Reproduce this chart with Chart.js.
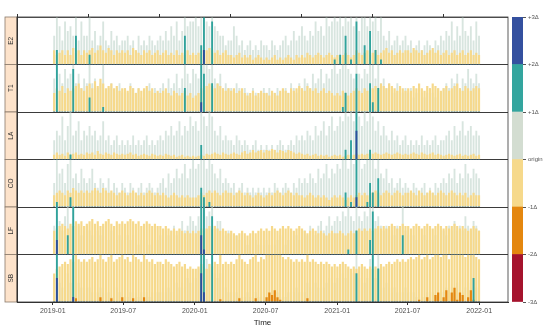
<!DOCTYPE html>
<html>
<head>
<meta charset="utf-8">
<script src="https://cdn.jsdelivr.net/npm/chart.js@4/dist/chart.umd.min.js"></script>
<style>
  body { margin: 0; background: #fff; }
  #wrap { position: relative; width: 550px; height: 333px; }
  #main { position: absolute; left: 0; top: 0; }
  #bar { position: absolute; left: 505px; top: 0; }
</style>
</head>
<body>
<div id="wrap">
  <canvas id="main" width="510" height="333"></canvas>
  <canvas id="bar" width="45" height="333"></canvas>
</div>
<script>
// panel names (top to bottom)
const panels = ['E2', 'T1', 'LA', 'CO', 'LF', 'SB'];

// x axis ticks
const tickLabels = ['2019-01', '2019-07', '2020-01', '2020-07', '2021-01', '2021-07', '2022-01'];

// colour key labels, bottom to top
const keyLabels = ['-3\u0394', '-2\u0394', '-1\u0394', 'origin', '+1\u0394', '+2\u0394', '+3\u0394'];

// weekly values from 2019-01-01, in units of delta (above origin / below origin)
const upE2 = [
  0.6,1.3,0.8,0.5,0.9,0.7,0.8,0.6,1.6,0.5,0.9,0.6,0.6,
  1.2,0.5,0.7,0.4,0.6,0.9,0.5,0.4,0.7,0.5,0.6,0.4,0.5,
  0.5,0.6,0.4,0.5,0.3,0.6,0.4,0.5,0.4,0.6,0.5,0.4,0.5,
  0.6,0.5,0.7,0.5,0.8,0.6,0.9,0.5,0.7,1.6,0.8,0.9,0.9,
  1.0,0.8,1.4,2.3,0.9,0.8,1.9,0.8,0.7,0.6,0.6,0.4,0.5,
  0.5,0.8,0.6,0.4,0.5,0.3,0.4,0.5,0.3,0.4,0.3,0.5,0.4,
  0.4,0.3,0.5,0.4,0.3,0.4,0.5,0.6,0.4,0.5,0.7,0.5,0.6,
  0.8,0.6,0.5,0.7,0.6,0.9,0.7,0.8,0.6,1.0,0.8,0.9,1.1,
  0.9,1.2,0.8,1.6,0.9,1.1,0.8,1.9,0.7,1.0,1.4,0.8,1.7,
  0.9,1.3,0.7,1.1,0.6,0.5,0.7,0.4,0.5,0.6,0.4,0.5,0.6,
  0.4,0.5,0.3,0.4,0.5,0.3,0.4,0.5,0.4,0.3,0.5,0.4,0.6,
  0.5,0.7,0.6,0.9,0.5,0.8,0.6,1.0,0.7,0.6,0.8,0.5,0.9,
  0.6
];
const downE2 = [
  0.3,0.2,0.25,0.3,0.2,0.3,0.2,0.35,0.25,0.3,0.2,0.3,0.25,
  0.3,0.35,0.25,0.3,0.4,0.3,0.25,0.35,0.3,0.2,0.3,0.25,0.3,
  0.25,0.3,0.2,0.35,0.3,0.25,0.2,0.3,0.25,0.3,0.2,0.25,0.3,
  0.2,0.25,0.3,0.2,0.25,0.2,0.3,0.2,0.25,0.2,0.3,0.2,0.25,
  0.2,0.25,0.3,0.2,0.3,0.35,0.3,0.25,0.3,0.2,0.25,0.3,0.2,
  0.2,0.15,0.2,0.25,0.15,0.2,0.15,0.2,0.1,0.15,0.2,0.15,0.1,
  0.15,0.1,0.15,0.2,0.1,0.15,0.1,0.15,0.2,0.15,0.1,0.2,0.15,
  0.2,0.15,0.25,0.2,0.15,0.2,0.25,0.2,0.15,0.2,0.25,0.2,0.15,
  0.2,0.15,0.2,0.25,0.2,0.15,0.2,0.3,0.25,0.2,0.25,0.3,0.2,
  0.25,0.3,0.2,0.25,0.3,0.35,0.25,0.3,0.2,0.25,0.3,0.25,0.3,
  0.3,0.25,0.35,0.3,0.25,0.3,0.2,0.25,0.3,0.35,0.25,0.3,0.2,
  0.25,0.3,0.2,0.25,0.3,0.2,0.25,0.3,0.2,0.25,0.3,0.2,0.25,
  0.2
];
const upT1 = [
  0.7,2.0,0.8,0.6,0.9,0.7,0.8,1.9,0.6,0.8,0.5,0.7,0.6,
  1.3,0.6,0.7,0.5,0.6,1.1,0.4,0.5,0.6,0.4,0.5,0.6,0.4,
  0.5,0.4,0.6,0.5,0.4,0.5,0.3,0.4,0.5,0.6,0.4,0.5,0.4,
  0.5,0.6,0.4,0.7,0.5,0.6,0.8,0.5,0.7,1.5,0.8,0.6,0.9,
  0.8,0.7,2.2,1.8,1.0,0.9,1.6,0.7,0.6,0.8,0.5,0.6,0.5,
  0.5,0.4,0.6,0.5,0.4,0.5,0.4,0.3,0.5,0.4,0.3,0.4,0.5,
  0.4,0.5,0.3,0.4,0.5,0.4,0.3,0.5,0.4,0.6,0.5,0.4,0.6,
  0.5,0.7,0.6,0.5,0.8,0.6,0.7,0.9,0.6,0.8,0.7,0.9,1.0,
  0.8,0.9,1.1,1.4,0.9,0.8,0.7,1.8,0.8,0.7,0.9,0.8,1.6,
  1.2,0.7,1.5,0.6,0.7,0.5,0.6,0.5,0.4,0.6,0.5,0.4,0.5,
  0.4,0.5,0.3,0.4,0.5,0.4,0.3,0.4,0.5,0.4,0.3,0.5,0.4,
  0.5,0.6,0.5,0.7,0.6,0.8,0.5,0.7,0.6,0.9,0.7,0.6,0.8,
  0.6
];
const downT1 = [
  0.4,0.5,0.45,0.55,0.4,0.5,0.45,0.5,0.55,0.6,0.5,0.45,0.55,
  0.6,0.5,0.65,0.55,0.7,0.6,0.5,0.55,0.6,0.5,0.55,0.45,0.5,
  0.5,0.45,0.55,0.5,0.4,0.5,0.45,0.5,0.55,0.45,0.5,0.4,0.45,
  0.4,0.45,0.5,0.4,0.35,0.45,0.4,0.35,0.4,0.45,0.35,0.4,0.3,
  0.35,0.4,0.5,0.45,0.55,0.6,0.55,0.5,0.6,0.55,0.5,0.45,0.5,
  0.45,0.5,0.4,0.45,0.5,0.4,0.35,0.4,0.45,0.35,0.4,0.45,0.4,
  0.4,0.35,0.45,0.4,0.35,0.45,0.5,0.45,0.4,0.5,0.45,0.5,0.55,
  0.5,0.45,0.55,0.5,0.45,0.5,0.4,0.45,0.5,0.4,0.45,0.4,0.35,
  0.4,0.35,0.45,0.4,0.35,0.4,0.45,0.5,0.45,0.4,0.5,0.45,0.5,
  0.5,0.55,0.5,0.6,0.55,0.5,0.6,0.55,0.5,0.45,0.55,0.5,0.45,
  0.5,0.45,0.55,0.5,0.6,0.5,0.45,0.55,0.5,0.6,0.55,0.5,0.45,
  0.5,0.55,0.45,0.5,0.55,0.6,0.5,0.45,0.55,0.5,0.45,0.5,0.55,
  0.5
];
const upLA = [
  0.4,0.6,0.5,0.9,0.4,0.7,1.1,0.5,0.6,0.8,0.4,0.6,0.5,
  0.7,0.5,0.6,0.4,0.5,0.8,0.4,0.5,0.3,0.4,0.5,0.3,0.4,
  0.3,0.4,0.3,0.5,0.3,0.4,0.3,0.4,0.5,0.3,0.4,0.3,0.4,
  0.5,0.4,0.6,0.5,0.7,0.5,0.6,0.8,0.5,0.7,0.6,0.9,0.7,
  0.8,0.6,1.3,0.9,0.7,1.0,0.9,0.6,0.5,0.7,0.4,0.5,0.4,
  0.4,0.3,0.5,0.4,0.3,0.4,0.3,0.2,0.3,0.4,0.2,0.3,0.2,
  0.3,0.2,0.3,0.2,0.3,0.4,0.3,0.2,0.3,0.4,0.3,0.5,0.4,
  0.5,0.4,0.6,0.5,0.4,0.7,0.5,0.6,0.8,0.5,0.7,0.9,0.6,
  0.7,0.9,0.8,1.2,0.9,1.4,0.8,2.6,0.9,0.7,1.0,0.8,1.2,
  0.9,0.6,0.8,0.5,0.7,0.5,0.4,0.6,0.4,0.5,0.3,0.4,0.5,
  0.3,0.4,0.3,0.4,0.3,0.5,0.3,0.4,0.3,0.4,0.5,0.3,0.4,
  0.4,0.5,0.6,0.4,0.7,0.5,0.6,0.8,0.5,0.6,0.7,0.5,0.6,
  0.5
];
const downLA = [
  0.1,0.15,0.1,0.12,0.08,0.15,0.1,0.12,0.15,0.1,0.12,0.1,0.15,
  0.12,0.15,0.1,0.18,0.12,0.1,0.15,0.12,0.1,0.15,0.12,0.1,0.12,
  0.1,0.12,0.15,0.1,0.12,0.08,0.1,0.12,0.1,0.08,0.12,0.1,0.08,
  0.1,0.08,0.12,0.1,0.08,0.1,0.06,0.08,0.1,0.06,0.08,0.06,0.08,
  0.06,0.08,0.1,0.08,0.12,0.1,0.12,0.15,0.12,0.1,0.15,0.12,0.1,
  0.12,0.15,0.12,0.1,0.15,0.18,0.12,0.15,0.2,0.15,0.18,0.2,0.15,
  0.2,0.18,0.22,0.2,0.15,0.2,0.18,0.15,0.2,0.18,0.15,0.12,0.15,
  0.12,0.1,0.12,0.08,0.1,0.12,0.08,0.1,0.08,0.1,0.06,0.08,0.1,
  0.08,0.1,0.06,0.08,0.1,0.08,0.1,0.12,0.1,0.12,0.1,0.12,0.15,
  0.12,0.15,0.12,0.1,0.12,0.15,0.12,0.1,0.12,0.15,0.12,0.1,0.12,
  0.1,0.12,0.15,0.12,0.1,0.15,0.12,0.1,0.12,0.15,0.1,0.12,0.1,
  0.08,0.1,0.12,0.1,0.08,0.1,0.12,0.08,0.1,0.08,0.1,0.12,0.08,
  0.1
];
const upCO = [
  0.5,1.1,0.7,0.8,0.5,0.9,1.2,0.6,0.7,0.5,0.8,0.6,0.5,
  0.6,0.8,0.5,0.4,0.6,0.5,0.4,0.6,0.3,0.5,0.4,0.3,0.5,
  0.4,0.3,0.5,0.4,0.3,0.4,0.5,0.3,0.4,0.5,0.4,0.3,0.4,
  0.5,0.6,0.4,0.7,0.5,0.6,0.8,0.6,0.7,0.9,0.6,0.8,1.0,
  0.8,0.9,1.4,1.2,0.8,1.1,0.9,0.7,0.6,0.8,0.5,0.6,0.5,
  0.4,0.5,0.3,0.4,0.5,0.3,0.4,0.3,0.4,0.3,0.4,0.3,0.4,
  0.3,0.4,0.3,0.5,0.4,0.3,0.4,0.5,0.4,0.3,0.5,0.4,0.6,
  0.5,0.6,0.5,0.7,0.6,0.5,0.8,0.6,0.7,0.9,0.6,0.8,0.7,
  0.9,0.8,1.0,1.3,0.8,1.1,0.9,2.2,1.0,0.8,0.9,1.1,1.5,
  1.3,0.8,1.6,0.7,0.6,0.8,0.5,0.6,0.4,0.5,0.6,0.4,0.5,
  0.4,0.3,0.5,0.4,0.3,0.4,0.5,0.3,0.4,0.3,0.5,0.4,0.5,
  0.6,0.5,0.7,0.6,0.8,0.5,0.7,0.6,0.9,0.7,0.6,0.8,0.7,
  0.6
];
const downCO = [
  0.25,0.3,0.35,0.3,0.25,0.35,0.3,0.4,0.35,0.3,0.35,0.3,0.35,
  0.3,0.35,0.4,0.35,0.3,0.4,0.35,0.3,0.35,0.3,0.25,0.3,0.35,
  0.3,0.25,0.3,0.35,0.3,0.25,0.3,0.25,0.3,0.35,0.3,0.25,0.3,
  0.25,0.3,0.25,0.2,0.25,0.3,0.25,0.2,0.25,0.2,0.25,0.2,0.2,
  0.2,0.25,0.3,0.25,0.3,0.35,0.3,0.35,0.3,0.25,0.3,0.35,0.3,
  0.3,0.25,0.3,0.35,0.3,0.25,0.3,0.25,0.2,0.25,0.3,0.25,0.2,
  0.25,0.3,0.25,0.3,0.35,0.3,0.25,0.3,0.35,0.3,0.25,0.3,0.25,
  0.25,0.2,0.25,0.3,0.25,0.2,0.25,0.2,0.25,0.2,0.15,0.2,0.25,
  0.2,0.25,0.2,0.15,0.2,0.25,0.2,0.25,0.3,0.25,0.3,0.25,0.3,
  0.3,0.35,0.3,0.25,0.3,0.35,0.3,0.25,0.3,0.35,0.3,0.25,0.3,
  0.3,0.35,0.3,0.25,0.35,0.3,0.25,0.3,0.35,0.3,0.25,0.3,0.35,
  0.3,0.25,0.3,0.35,0.3,0.25,0.3,0.25,0.3,0.2,0.25,0.3,0.25,
  0.25
];
const upLF = [
  0.6,2.3,0.7,0.5,0.8,1.4,0.6,2.0,0.5,0.6,0.4,0.5,0.6,
  0.5,0.4,0.6,0.5,0.4,0.6,0.4,0.3,0.5,0.4,0.3,0.4,0.3,
  0.3,0.4,0.3,0.4,0.3,0.2,0.3,0.4,0.3,0.2,0.3,0.4,0.3,
  0.4,0.3,0.5,0.4,0.5,0.6,0.4,0.5,0.7,0.5,0.6,0.8,0.7,
  0.6,0.8,2.4,2.1,0.8,0.9,1.8,0.6,0.7,0.7,0.5,0.4,0.5,
  0.4,0.3,0.4,0.3,0.4,0.3,0.2,0.3,0.4,0.3,0.2,0.3,0.2,
  0.3,0.2,0.3,0.2,0.3,0.4,0.3,0.2,0.3,0.4,0.3,0.4,0.3,
  0.4,0.5,0.4,0.6,0.5,0.4,0.6,0.7,0.5,0.6,0.8,0.6,0.7,
  0.8,0.7,0.9,0.8,1.1,0.8,0.7,1.5,0.8,0.7,0.9,0.8,1.3,
  1.9,0.7,0.8,0.6,0.5,0.6,0.4,0.5,0.4,0.6,0.4,1.4,0.5,
  0.4,0.3,0.4,0.3,0.2,0.3,0.4,0.3,0.2,0.3,0.4,0.3,0.4,
  0.5,0.4,0.6,0.5,0.7,0.5,0.6,0.5,0.8,0.6,0.5,0.7,0.6,
  0.5
];
const downLF = [
  0.5,0.55,0.6,0.65,0.6,0.55,0.65,0.6,0.7,0.65,0.7,0.6,0.65,
  0.7,0.75,0.65,0.7,0.6,0.65,0.7,0.75,0.65,0.6,0.7,0.65,0.7,
  0.65,0.7,0.75,0.7,0.65,0.7,0.6,0.65,0.7,0.65,0.6,0.65,0.6,
  0.6,0.55,0.6,0.55,0.5,0.55,0.5,0.55,0.5,0.45,0.5,0.45,0.5,
  0.45,0.5,0.55,0.5,0.55,0.6,0.55,0.6,0.55,0.5,0.55,0.5,0.45,
  0.5,0.45,0.4,0.45,0.5,0.45,0.4,0.45,0.5,0.45,0.5,0.55,0.5,
  0.55,0.5,0.6,0.55,0.5,0.55,0.6,0.55,0.6,0.55,0.5,0.55,0.6,
  0.55,0.5,0.45,0.5,0.55,0.5,0.45,0.5,0.45,0.4,0.45,0.5,0.45,
  0.45,0.5,0.45,0.4,0.45,0.5,0.45,0.5,0.55,0.5,0.55,0.5,0.55,
  0.5,0.55,0.6,0.55,0.6,0.55,0.6,0.65,0.6,0.55,0.6,0.65,0.6,
  0.6,0.55,0.6,0.65,0.6,0.55,0.6,0.65,0.6,0.55,0.6,0.65,0.6,
  0.55,0.6,0.55,0.6,0.65,0.6,0.55,0.6,0.55,0.5,0.55,0.6,0.55,
  0.5
];
const upSB = [
  0.5,2.5,0.4,0.3,0.5,0.6,0.4,2.1,0.3,0.4,0.3,0.2,0.3,
  0.3,0.2,0.3,0.2,0.3,0.2,0.3,0.2,0.1,0.2,0.3,0.2,0.1,
  0.2,0.1,0.2,0.1,0.2,0.1,0.2,0.1,0.2,0.1,0.2,0.1,0.2,
  0.2,0.3,0.2,0.3,0.2,0.3,0.4,0.3,0.4,0.3,0.5,0.4,0.6,
  0.5,0.7,2.6,2.2,0.9,0.8,2.0,0.6,0.5,0.6,0.4,0.3,0.2,
  0.2,0.3,0.2,0.1,0.2,0.1,0.2,0.1,0.1,0.2,0.1,0.1,0.2,
  0.1,0.2,0.1,0.1,0.2,0.1,0.2,0.1,0.2,0.3,0.2,0.3,0.2,
  0.3,0.2,0.4,0.3,0.2,0.4,0.3,0.5,0.3,0.4,0.5,0.3,0.4,
  0.5,0.4,0.6,0.5,0.7,0.5,0.6,1.6,0.5,0.6,0.4,0.5,0.9,
  2.0,0.5,1.7,0.4,0.3,0.4,0.3,0.2,0.3,0.2,0.3,0.2,0.3,
  0.2,0.1,0.2,0.1,0.2,0.1,0.1,0.2,0.1,0.2,0.1,0.2,0.1,
  0.2,0.3,0.2,0.3,0.2,0.4,0.3,0.2,0.3,0.4,0.3,1.5,0.3,
  0.3
];
const downSB = [
  0.6,0.7,0.75,0.8,0.85,0.8,0.9,0.85,1.08,0.9,0.85,0.9,0.85,
  0.9,0.95,0.85,0.9,1.1,0.9,0.85,0.95,1.08,0.85,0.9,0.95,1.1,
  0.9,0.95,0.85,1.08,0.95,0.9,0.85,1.1,0.9,0.85,0.9,0.8,0.85,
  0.85,0.8,0.9,0.85,0.8,0.75,0.8,0.85,0.75,0.8,0.7,0.75,0.7,
  0.7,0.75,0.8,0.75,0.7,0.8,0.75,0.85,0.8,1.06,0.8,0.85,0.8,
  0.85,0.8,0.9,1.08,0.9,0.85,0.8,0.9,0.95,1.08,0.85,0.95,0.9,
  1.1,1.2,1.15,1.25,1.1,1.05,0.95,0.9,0.95,0.9,0.85,0.9,0.85,
  0.9,0.85,1.08,0.85,0.9,0.85,0.8,0.85,0.8,0.85,0.8,0.75,0.8,
  0.75,0.8,0.85,0.8,0.75,0.7,0.75,0.7,0.75,0.8,0.75,0.7,0.75,
  0.7,0.75,0.7,0.8,0.75,0.8,0.85,0.8,0.85,0.9,0.85,0.9,0.85,
  0.9,0.95,0.9,0.95,1.05,0.9,0.95,1.1,0.9,0.95,1.15,1.2,0.95,
  1.1,1.25,0.9,1.2,1.3,1.05,1.2,1.15,0.95,1.1,1.25,1.05,0.95,
  0.9
];

const ups = [upE2, upT1, upLA, upCO, upLF, upSB];
const downs = [downE2, downT1, downLA, downCO, downLF, downSB];

const colUp = ['rgba(190,212,202,0.6)', '#30a39c', '#2f4d9c'];
const colDown = ['#f6d98b', '#e4870f', '#a5132d'];
const keyColors = ['#a5132d', '#e4870f', '#f6d98b', '#d3ddd1', '#33a59e', '#34509f'];

const day0 = Date.UTC(2019, 0, 1);
const tickDays = tickLabels.map(s => (Date.UTC(+s.slice(0, 4), +s.slice(5, 7) - 1, 1) - day0) / 864e5);
const weekX = upE2.map((_, i) => i * 7 + 3.5);

function band(vals, lo) {
  return vals.map((v, i) => ({ x: weekX[i], y: Math.max(0, Math.min(v - lo, 1)) }));
}

const xMin = -92, xMax = 1170;
const datasets = [];
const scales = {
  x: {
    type: 'linear', position: 'bottom', min: xMin, max: xMax, offset: false,
    afterBuildTicks: s => { s.ticks = tickDays.map(v => ({ value: v })); },
    afterFit: s => { s.height = 31; },
    ticks: { callback: (v, i) => tickLabels[i], autoSkip: false, maxRotation: 0,
             font: { size: 7, family: 'Liberation Sans' }, color: '#4d4d4d', padding: 2 },
    grid: { drawOnChartArea: false, tickLength: 3, color: '#333', offset: false },
    border: { color: '#333' },
    title: { display: true, text: 'Time', font: { size: 8, family: 'Liberation Sans' }, color: '#222',
             padding: { top: 0, bottom: 5 } }
  },
  xTop: {
    type: 'linear', position: 'top', min: xMin, max: xMax, offset: false,
    afterBuildTicks: s => { s.ticks = tickDays.map(v => ({ value: v })); },
    afterFit: s => { s.height = 3; },
    ticks: { display: false },
    grid: { drawOnChartArea: false, tickLength: 3, color: '#333' },
    border: { display: false }
  }
};

// stacked axes are laid out bottom-up, so add them from the last panel
panels.slice().reverse().forEach(name => {
  scales['y' + name] = {
    type: 'linear', position: 'left', stack: 'panels', stackWeight: 1, min: 0, max: 1,
    afterBuildTicks: s => { s.ticks = [{ value: 0 }, { value: 1 }]; },
    afterFit: s => { s.width = 12; },
    ticks: { display: false },
    grid: { drawTicks: false, color: '#333', lineWidth: 0.8 },
    border: { color: '#333' },
    title: { display: true, text: name, font: { size: 6.5, family: 'Liberation Sans' }, color: '#333',
             padding: { top: 2, bottom: 0 } }
  };
});

panels.forEach((name, p) => {
  const up = ups[p], down = downs[p];
  const thin = { barThickness: 1.2 };
  const wide = { barPercentage: 0.8, categoryPercentage: 1 };
  const set = [
    { label: name + ' +3', data: band(up, 2), backgroundColor: colUp[2], order: 0, ...thin },
    { label: name + ' +2', data: band(up, 1), backgroundColor: colUp[1], order: 1, ...thin },
    { label: name + ' -3', data: band(down, 2), backgroundColor: colDown[2], order: 2, ...wide },
    { label: name + ' -2', data: band(down, 1), backgroundColor: colDown[1], order: 3, ...wide },
    { label: name + ' -1', data: band(down, 0), backgroundColor: colDown[0], order: 4, ...wide },
    { label: name + ' +1', data: band(up, 0), backgroundColor: colUp[0], order: 5, ...thin }
  ];
  set.forEach(d => { d.yAxisID = 'y' + name; d.xAxisID = 'x'; d.grouped = false; datasets.push(d); });
});

const frame = {
  id: 'frame',
  beforeDraw(chart) {
    const ctx = chart.ctx;
    ctx.save();
    panels.forEach(name => {
      const s = chart.scales['y' + name];
      ctx.fillStyle = '#fde3cb';
      ctx.fillRect(5, s.top, 12, s.bottom - s.top);
      ctx.strokeStyle = '#8a7a6c';
      ctx.lineWidth = 0.8;
      ctx.strokeRect(5, s.top, 12, s.bottom - s.top);
    });
    ctx.restore();
  },
  afterDraw(chart) {
    const { ctx, chartArea: a } = chart;
    ctx.save();
    ctx.strokeStyle = '#333';
    ctx.lineWidth = 0.8;
    ctx.strokeRect(a.left, a.top, a.right - a.left, a.bottom - a.top);
    ctx.restore();
  }
};

new Chart(document.getElementById('main'), {
  type: 'bar',
  data: { datasets },
  options: {
    responsive: false, animation: false,
    layout: { padding: { left: 5, right: 2, top: 14, bottom: 0 } },
    plugins: { legend: { display: false }, tooltip: { enabled: false } },
    scales
  },
  plugins: [frame]
});

// colour key
new Chart(document.getElementById('bar'), {
  type: 'bar',
  data: {
    labels: [''],
    datasets: keyColors.map((c, i) => ({ label: keyLabels[i], data: [1], backgroundColor: c,
                                          barPercentage: 1, categoryPercentage: 1 }))
  },
  options: {
    responsive: false, animation: false,
    layout: { padding: { left: 7, right: 0, top: 17, bottom: 31 } },
    plugins: { legend: { display: false }, tooltip: { enabled: false } },
    scales: {
      x: { stacked: true, display: false },
      y: {
        stacked: true, position: 'right', min: 0, max: 6,
        afterBuildTicks: s => { s.ticks = keyLabels.map((_, i) => ({ value: i })); },
        afterFit: s => { s.width = 27; },
        ticks: { callback: (v, i) => keyLabels[i], font: { size: 6, family: 'Liberation Sans' },
                 color: '#555', padding: 2 },
        grid: { drawOnChartArea: false, tickLength: 3, color: '#555' },
        border: { display: false }
      }
    }
  }
});
</script>
</body>
</html>
